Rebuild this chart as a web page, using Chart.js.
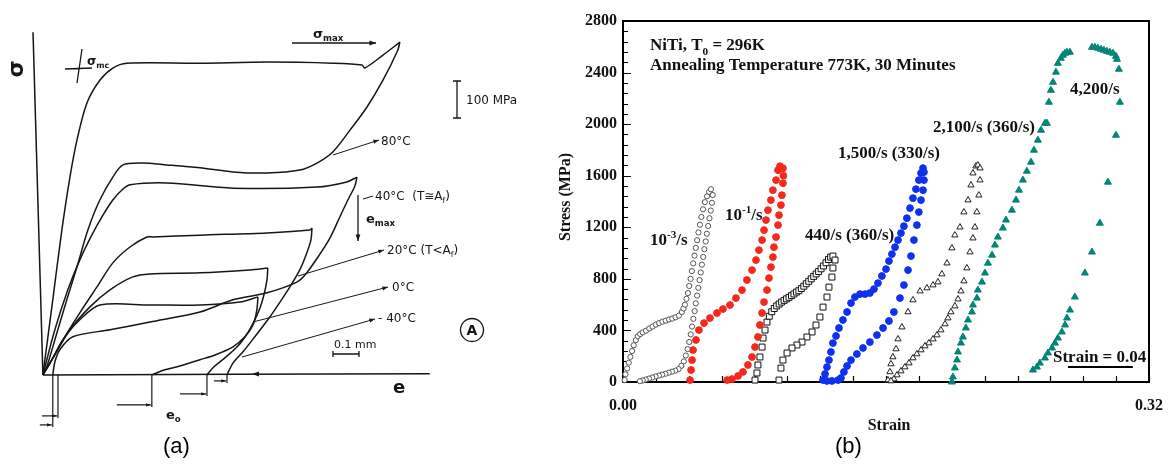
<!DOCTYPE html>
<html>
<head>
<meta charset="utf-8">
<script src="https://cdn.jsdelivr.net/npm/chart.js@4.4.0/dist/chart.umd.min.js"></script>
<style>
  html, body { margin: 0; padding: 0; background: #fff; }
  body { width: 1168px; height: 464px; position: relative; overflow: hidden; font-family: 'Liberation Sans', Arial, sans-serif; }
  #wrapA { position: absolute; left: 0; top: 0; }
  #wrapB { position: absolute; left: 540px; top: 0; }
  .cap { position: absolute; top: 433px; font-size: 22px; color: #000; }
</style>
</head>
<body>
<div id="wrapA"><canvas id="sketch" width="540" height="464"></canvas></div>
<div id="wrapB"><canvas id="curves" width="639" height="464"></canvas></div>
<div class="cap" style="left:163px">(a)</div>
<div class="cap" style="left:835px">(b)</div>

<script>
// ---------- panel (a): schematic loops, strain e in mm, stress in MPa ----------
const tempLabels = ['80°C', '40°C (T≅Af)', '20°C (T<Af)', '0°C', '-40°C'];

const load80 = [[0,0],[0.038,203],[0.073,392],[0.104,535],[0.131,635],[0.169,735],[0.219,797],[0.269,830],[0.323,843],[0.604,843],[0.862,846],[1.115,843],[1.227,838],[1.238,830],[1.308,865],[1.373,900]];
const unload80 = [[1.373,900],[1.365,878],[1.308,797],[1.246,724],[1.181,662],[1.115,603],[1.054,573],[0.988,554],[0.862,546],[0.731,549],[0.604,560],[0.477,568],[0.385,573],[0.308,568],[0.269,535],[0.219,473],[0.173,392],[0.131,292],[0.092,203],[0.054,114],[0.015,22],[0,0]];

const load40 = [[0,0],[0.046,122],[0.096,230],[0.142,311],[0.188,378],[0.231,432],[0.269,473],[0.304,500],[0.335,514],[0.477,519],[0.731,505],[1.054,508],[1.169,522],[1.208,535]];
const unload40 = [[1.208,535],[1.2,511],[1.173,473],[1.142,427],[1.104,370],[1.058,319],[1.008,270],[0.977,251],[0.862,222],[0.731,203],[0.604,170],[0.412,143],[0.258,122],[0.115,103],[0.065,68],[0.046,35],[0.038,0]];

const load20 = [[0,0],[0.027,32],[0.077,95],[0.142,168],[0.208,238],[0.269,303],[0.335,346],[0.4,373],[0.423,373],[0.604,378],[0.862,384],[1.027,392],[1.035,397]];
const unload20 = [[1.035,397],[1.031,365],[1.015,330],[0.988,284],[0.95,238],[0.912,197],[0.865,149],[0.815,103],[0.769,62],[0.731,32],[0.708,0]];

const load0 = [[0,0],[0.046,54],[0.104,122],[0.181,184],[0.258,230],[0.346,265],[0.412,273],[0.604,276],[0.796,284],[0.865,289]];
const unload0 = [[0.865,289],[0.862,257],[0.85,216],[0.835,181],[0.815,149],[0.788,114],[0.75,78],[0.7,46],[0.658,22],[0.631,0]];

const loadM40 = [[0,0],[0.035,41],[0.077,95],[0.142,149],[0.219,189],[0.412,189],[0.604,189],[0.758,197],[0.827,211]];
const unloadM40 = [[0.827,211],[0.823,176],[0.808,135],[0.777,103],[0.731,76],[0.662,54],[0.604,41],[0.527,24],[0.469,14],[0.419,0]];

const axisSigma = [[-0.038,927],[0,0]];
const axisE = [[0,0],[1.488,3]];
const residualStrains = [0.038, 0.058, 0.419, 0.631, 0.708];

// ---------- panel (b): NiTi, strain vs stress (MPa) ----------
const rateLabels = ['10-3/s', '10-1/s', '440/s (360/s)', '1,500/s (330/s)', '2,100/s (360/s)', '4,200/s'];
const strainTicks = [0.00, 0.32];
const stressTicks = [0, 400, 800, 1200, 1600, 2000, 2400, 2800];

const rate1e3 = [[0.001,15],[0.0015,60],[0.0025,105],[0.0035,150],[0.0045,195],[0.0055,240],[0.0065,285],[0.0078,325],[0.009,355],[0.0105,372],[0.012,385],[0.014,398],[0.016,415],[0.018,430],[0.020,445],[0.022,457],[0.024,468],[0.026,476],[0.028,485],[0.030,492],[0.032,502],[0.034,515],[0.0358,543],[0.0368,570],[0.0377,600],[0.0386,645],[0.0395,690],[0.0403,745],[0.0411,800],[0.0419,860],[0.0427,920],[0.0435,980],[0.0443,1040],[0.0451,1100],[0.0459,1160],[0.0468,1220],[0.0477,1280],[0.0487,1340],[0.0498,1395],[0.0511,1440],[0.0524,1475],[0.0535,1495],
  [0.0546,1450],[0.0541,1390],[0.0534,1330],[0.0526,1270],[0.0518,1210],[0.0510,1150],[0.0503,1090],[0.0495,1030],[0.0488,970],[0.0480,910],[0.0473,850],[0.0466,790],[0.0458,730],[0.0451,670],[0.0443,610],[0.0436,550],[0.0428,490],[0.0420,430],[0.0412,370],[0.0403,310],[0.0393,255],[0.0382,205],[0.0370,160],[0.0355,125],[0.0338,100],[0.0318,88],[0.0298,80],[0.0278,72],[0.0258,64],[0.0238,57],[0.0218,50],[0.0198,43],[0.0178,35],[0.0158,27],[0.0138,19],[0.012,12],[0.0103,6]];

const rate1e1 = [[0.0408,15],[0.0414,93],[0.042,170],[0.0426,248],[0.0444,326],[0.0462,403],[0.0493,457],[0.0529,496],[0.0572,535],[0.0608,566],[0.0651,597],[0.0687,651],[0.0724,713],[0.0754,791],[0.0785,868],[0.0809,946],[0.0827,1023],[0.0846,1101],[0.0858,1178],[0.087,1256],[0.0882,1333],[0.09,1411],[0.0912,1488],[0.0931,1566],[0.0943,1643],[0.0955,1674],
  [0.0973,1658],[0.0976,1600],[0.0973,1542],[0.0967,1449],[0.0961,1372],[0.0949,1294],[0.0943,1217],[0.0931,1124],[0.0918,1046],[0.0912,969],[0.09,891],[0.0888,806],[0.0876,713],[0.0858,620],[0.0846,535],[0.0833,442],[0.0821,349],[0.0803,271],[0.0785,194],[0.076,132],[0.073,78],[0.07,47],[0.0663,23],[0.0633,15]];

const rate440 = [[0.0803,15],[0.0815,70],[0.0821,132],[0.0833,194],[0.0846,271],[0.0852,341],[0.0864,403],[0.0876,465],[0.089,510],[0.0905,545],[0.092,570],[0.0935,590],[0.095,605],[0.0965,620],[0.098,633],[0.0995,645],[0.101,657],[0.1025,670],[0.104,683],[0.1055,697],[0.107,708],[0.1085,725],[0.11,743],[0.1115,762],[0.113,781],[0.1145,800],[0.116,819],[0.1175,838],[0.119,857],[0.1205,878],[0.122,900],[0.1235,925],[0.125,950],[0.1263,968],[0.1277,977],
  [0.129,946],[0.1277,884],[0.1271,814],[0.1253,736],[0.1241,659],[0.1217,581],[0.1198,504],[0.1174,442],[0.115,388],[0.1119,349],[0.1089,310],[0.1058,287],[0.1028,264],[0.0998,225],[0.0973,170],[0.0961,108],[0.0949,15]];

const rate1500 = [[0.1217,15],[0.1229,62],[0.1241,116],[0.1253,170],[0.1265,233],[0.1277,302],[0.1296,357],[0.1314,419],[0.1338,481],[0.1363,543],[0.1387,612],[0.1411,659],[0.1442,682],[0.1472,682],[0.1502,690],[0.1527,721],[0.1551,767],[0.1575,822],[0.16,876],[0.1618,938],[0.1636,992],[0.1655,1046],[0.1673,1101],[0.1691,1155],[0.1709,1209],[0.1727,1271],[0.1746,1349],[0.1764,1426],[0.1782,1496],[0.18,1566],[0.1813,1620],[0.1825,1659],
  [0.1831,1628],[0.1831,1566],[0.1825,1488],[0.1813,1411],[0.18,1318],[0.1788,1217],[0.177,1101],[0.1752,977],[0.1734,868],[0.1709,752],[0.1685,651],[0.1648,543],[0.1618,473],[0.1582,419],[0.1545,364],[0.1502,310],[0.146,264],[0.1423,217],[0.1387,170],[0.1363,124],[0.1344,78],[0.1326,31],[0.1308,15],[0.1271,8],[0.1241,8]];

const rate2100 = [[0.1612,15],[0.1624,78],[0.163,140],[0.1642,194],[0.1661,256],[0.1673,333],[0.1697,426],[0.1734,543],[0.1764,636],[0.1807,705],[0.1849,729],[0.1886,752],[0.1916,775],[0.194,837],[0.1971,922],[0.2001,1039],[0.2019,1139],[0.205,1201],[0.2074,1318],[0.2099,1411],[0.2117,1527],[0.2129,1620],[0.2147,1674],[0.2159,1682],
  [0.2172,1659],[0.2172,1566],[0.2165,1449],[0.2153,1318],[0.2141,1201],[0.2129,1116],[0.2111,1008],[0.2092,884],[0.2074,783],[0.2056,705],[0.2038,643],[0.2019,589],[0.1995,543],[0.1977,496],[0.1959,450],[0.1934,403],[0.191,364],[0.1886,333],[0.1861,302],[0.1837,279],[0.1813,248],[0.1788,217],[0.1764,186],[0.174,147],[0.1715,116],[0.1691,85],[0.1667,54],[0.1648,23],[0.163,8]];

const rate4200 = [[0.2001,0],[0.2007,39],[0.2019,109],[0.2032,171],[0.2038,233],[0.2056,302],[0.2068,349],[0.2086,419],[0.2099,481],[0.2123,543],[0.2129,597],[0.2153,651],[0.2159,713],[0.2184,775],[0.2202,845],[0.222,922],[0.2245,984],[0.2263,1062],[0.2281,1124],[0.2311,1194],[0.233,1256],[0.2366,1333],[0.2391,1411],[0.2409,1488],[0.2433,1566],[0.2457,1635],[0.2482,1705],[0.25,1798],[0.2524,1876],[0.2543,1953],[0.2567,2007],[0.2579,2007],[0.2591,2170],[0.2603,2263],[0.2616,2325],[0.2634,2403],[0.2646,2472],[0.2664,2511],[0.2676,2534],[0.2689,2550],[0.2701,2558],[0.2719,2558],
  [0.2853,2596],[0.2871,2596],[0.2889,2589],[0.2908,2581],[0.2926,2573],[0.2944,2565],[0.2962,2558],[0.2981,2550],[0.2999,2527],[0.3005,2503],[0.3017,2426],[0.3023,2170],[0.2999,1914],[0.295,1550],[0.2901,1232],[0.2853,1008],[0.281,845],[0.2749,659],[0.2719,558],[0.2701,496],[0.2689,442],[0.267,388],[0.2646,341],[0.2628,302],[0.261,264],[0.2585,225],[0.2567,186],[0.2536,147],[0.2518,116],[0.2494,93]];

const scaleBar = [[0.2707,116],[0.3102,116]];

// ---------- helpers ----------
const ink = '#161616';
const toXY = pts => pts.map(p => ({ x: p[0], y: p[1] }));

function arrow(ctx, x1, y1, x2, y2, head) {
  const ang = Math.atan2(y2 - y1, x2 - x1);
  ctx.beginPath();
  ctx.moveTo(x1, y1);
  ctx.lineTo(x2, y2);
  ctx.stroke();
  ctx.beginPath();
  ctx.moveTo(x2, y2);
  ctx.lineTo(x2 - head * Math.cos(ang - 0.35), y2 - head * Math.sin(ang - 0.35));
  ctx.lineTo(x2 - head * Math.cos(ang + 0.35), y2 - head * Math.sin(ang + 0.35));
  ctx.closePath();
  ctx.fill();
}

// text with optional sub/superscript pieces
function rich(ctx, x, y, parts, size, family, weight) {
  let cx = x;
  parts.forEach(([t, mode]) => {
    const s = mode ? size * 0.66 : size;
    ctx.font = `${weight} ${s}px ${family}`;
    const dy = mode === 'sub' ? size * 0.25 : mode === 'sup' ? -size * 0.4 : 0;
    ctx.fillText(t, cx, y + dy);
    cx += ctx.measureText(t).width;
  });
}

// ---------- panel (a) ----------
const sketchFont = '"DejaVu Sans"';
const notesA = {
  id: 'notesA',
  afterDatasetsDraw(chart) {
    const { ctx, scales: { x, y } } = chart;
    ctx.save();
    ctx.strokeStyle = ink;
    ctx.fillStyle = ink;
    ctx.lineWidth = 1.3;
    ctx.textBaseline = 'alphabetic';

    // sigma axis symbol
    ctx.save();
    ctx.translate(17, 69);
    ctx.rotate(-Math.PI / 2);
    ctx.textAlign = 'center';
    ctx.textBaseline = 'middle';
    ctx.font = 'bold 22px ' + sketchFont;
    ctx.fillText('σ', 0, 0);
    ctx.restore();

    // sigma_mc cross
    ctx.beginPath();
    ctx.moveTo(65, 69); ctx.lineTo(92, 68);
    ctx.moveTo(82, 49); ctx.lineTo(77, 83);
    ctx.stroke();
    rich(ctx, 87, 65, [['σ'], ['mc', 'sub']], 12, sketchFont, 'bold');

    // sigma_max arrow
    arrow(ctx, 292, 43, 376, 43, 7);
    rich(ctx, 313, 38, [['σ'], ['max', 'sub']], 13, sketchFont, 'bold');

    // 100 MPa bar
    ctx.beginPath();
    ctx.moveTo(457, 81); ctx.lineTo(457, 118);
    ctx.moveTo(453, 81); ctx.lineTo(461, 81);
    ctx.moveTo(453, 118); ctx.lineTo(461, 118);
    ctx.stroke();
    ctx.font = '12px ' + sketchFont;
    ctx.fillText('100 MPa', 466, 104);

    // temperature leaders and labels
    ctx.lineWidth = 1;
    arrow(ctx, 333, 155, 379, 140, 6);
    ctx.font = '12px ' + sketchFont;
    ctx.fillText(tempLabels[0], 381, 145);

    ctx.beginPath(); ctx.moveTo(363, 199); ctx.lineTo(373, 196); ctx.stroke();
    rich(ctx, 375, 200, [['40°C  (T≅A'], ['f', 'sub'], [')']], 12, sketchFont, 'normal');

    arrow(ctx, 298, 276, 384, 250, 6);
    rich(ctx, 387, 254, [['20°C (T<A'], ['f', 'sub'], [')']], 12, sketchFont, 'normal');

    arrow(ctx, 253, 322, 388, 287, 6);
    ctx.font = '12px ' + sketchFont;
    ctx.fillText(tempLabels[3], 392, 291);

    arrow(ctx, 242, 357, 375, 319, 6);
    ctx.fillText('- 40°C', 378, 322);

    // e_max arrow
    ctx.lineWidth = 1.3;
    arrow(ctx, 358, 195, 358, 241, 7);
    rich(ctx, 366, 223, [['e'], ['max', 'sub']], 13, sketchFont, 'bold');

    // 0.1 mm bar
    ctx.font = '11px ' + sketchFont;
    ctx.fillText('0.1 mm', 334, 348);
    ctx.beginPath();
    ctx.moveTo(333, 354); ctx.lineTo(359, 354);
    ctx.moveTo(333, 351); ctx.lineTo(333, 357);
    ctx.moveTo(359, 351); ctx.lineTo(359, 357);
    ctx.stroke();

    // circled A
    ctx.beginPath();
    ctx.arc(472, 330, 11.5, 0, Math.PI * 2);
    ctx.stroke();
    ctx.textAlign = 'center';
    ctx.textBaseline = 'middle';
    ctx.font = 'bold 14px ' + sketchFont;
    ctx.fillText('A', 472, 331);
    ctx.textAlign = 'left';
    ctx.textBaseline = 'alphabetic';

    // strain axis label and small arrow on the axis
    ctx.font = 'bold 18px ' + sketchFont;
    ctx.fillText('e', 393, 393);
    ctx.beginPath();
    ctx.moveTo(252, 374); ctx.lineTo(259, 371.5); ctx.lineTo(259, 376.5); ctx.closePath();
    ctx.fill();

    // residual strain markers
    const drops = [52, 43, 32, 21, 8];
    const reach = [13, 16, 35, 27, 13];
    const base = y.getPixelForValue(0);
    ctx.lineWidth = 1.2;
    residualStrains.forEach((r, i) => {
      const px = x.getPixelForValue(r);
      ctx.beginPath();
      ctx.moveTo(px, base); ctx.lineTo(px, base + drops[i]);
      ctx.stroke();
      arrow(ctx, px - reach[i], base + drops[i] - 2, px - 1, base + drops[i] - 2, 5);
    });
    rich(ctx, 166, 419, [['e'], ['o', 'sub']], 13, sketchFont, 'bold');

    ctx.restore();
  }
};

const sketchLine = pts => ({
  data: toXY(pts), showLine: true, pointRadius: 0,
  borderColor: ink, borderWidth: 1.5, tension: 0.3, clip: false
});

new Chart(document.getElementById('sketch'), {
  type: 'scatter',
  data: {
    datasets: [axisSigma, axisE, load80, unload80, load40, unload40, load20, unload20, load0, unload0, loadM40, unloadM40].map(sketchLine)
  },
  options: {
    responsive: false, animation: false, events: [],
    layout: { padding: 0 },
    plugins: { legend: { display: false }, tooltip: { enabled: false } },
    scales: {
      x: { type: 'linear', display: false, min: -0.165, max: 1.912 },
      y: { type: 'linear', display: false, min: -241, max: 1014 }
    }
  },
  plugins: [notesA]
});

// ---------- panel (b) ----------
const serif = '"Liberation Serif", "Times New Roman", serif';
const frameB = {
  id: 'frameB',
  beforeDatasetsDraw(chart) {
    const { ctx, chartArea: a, scales: { x, y } } = chart;
    ctx.save();
    ctx.strokeStyle = '#000';
    ctx.lineWidth = 1.2;
    ctx.beginPath();
    y.ticks.forEach(t => {
      const p = Math.round(y.getPixelForValue(t.value)) + 0.5;
      const len = stressTicks.includes(t.value) ? 8 : 5;
      ctx.moveTo(a.left, p); ctx.lineTo(a.left + len, p);
    });
    x.ticks.forEach(t => {
      const p = Math.round(x.getPixelForValue(t.value)) + 0.5;
      ctx.moveTo(p, a.bottom); ctx.lineTo(p, a.bottom - 6);
    });
    ctx.stroke();
    ctx.lineWidth = 2;
    ctx.strokeRect(a.left, a.top, a.right - a.left, a.bottom - a.top);
    ctx.restore();
  },
  afterDatasetsDraw(chart) {
    const { ctx, scales: { x, y } } = chart;
    const at = (sx, sy) => [x.getPixelForValue(sx), y.getPixelForValue(sy)];
    ctx.save();
    ctx.fillStyle = '#111';
    ctx.textBaseline = 'alphabetic';
    const S = 17;
    let p = at(0.0164, 2573); rich(ctx, p[0], p[1], [['NiTi, T'], ['0', 'sub'], [' = 296K']], S, serif, 'bold');
    p = at(0.0164, 2418); rich(ctx, p[0], p[1], [['Annealing Temperature 773K, 30 Minutes']], S, serif, 'bold');
    p = at(0.0164, 1062); rich(ctx, p[0], p[1], [['10'], ['-3', 'sup'], ['/s']], S, serif, 'bold');
    p = at(0.062, 1256); rich(ctx, p[0], p[1], [['10'], ['-1', 'sup'], ['/s']], S, serif, 'bold');
    p = at(0.1107, 1100); rich(ctx, p[0], p[1], [[rateLabels[2]]], S, serif, 'bold');
    p = at(0.1308, 1736); rich(ctx, p[0], p[1], [[rateLabels[3]]], S, serif, 'bold');
    p = at(0.1886, 1938); rich(ctx, p[0], p[1], [[rateLabels[4]]], S, serif, 'bold');
    p = at(0.2719, 2232); rich(ctx, p[0], p[1], [[rateLabels[5]]], S, serif, 'bold');
    p = at(0.2616, 155); rich(ctx, p[0], p[1], [['Strain = 0.04']], S, serif, 'bold');

    // axis titles
    ctx.font = `bold 16px ${serif}`;
    ctx.textAlign = 'center';
    ctx.textBaseline = 'middle';
    ctx.fillText('Strain', 349, 426);
    ctx.save();
    ctx.translate(26, 197);
    ctx.rotate(-Math.PI / 2);
    ctx.fillText('Stress (MPa)', 0, 0);
    ctx.restore();
    ctx.restore();
  }
};

const marker = (pts, style, r, fill, stroke) => ({
  data: toXY(pts), showLine: false, clip: false,
  pointStyle: style, pointRadius: r,
  pointBackgroundColor: fill, pointBorderColor: stroke, pointBorderWidth: 1
});

const tickFont = { family: serif, weight: 'bold', size: 16 };

new Chart(document.getElementById('curves'), {
  type: 'scatter',
  data: {
    datasets: [
      marker(rate1e3, 'circle', 2.6, '#fff', '#555'),
      marker(rate1e1, 'circle', 3.4, '#f5281e', '#f5281e'),
      marker(rate440, 'rect', 4.2, '#fff', '#111'),
      marker(rate1500, 'circle', 3.4, '#1030f0', '#1030f0'),
      marker(rate2100, 'triangle', 3.6, '#fff', '#222'),
      marker(rate4200, 'triangle', 4, '#008577', '#008577'),
      { data: toXY(scaleBar), showLine: true, pointRadius: 0, borderColor: '#000', borderWidth: 2, clip: false }
    ]
  },
  options: {
    responsive: false, animation: false, events: [],
    layout: { padding: { top: 21, right: 30, left: 0, bottom: 0 } },
    plugins: { legend: { display: false }, tooltip: { enabled: false } },
    scales: {
      x: {
        type: 'linear', min: 0, max: 0.32,
        afterFit: s => { s.height = 82; },
        grid: { display: false, drawTicks: false },
        border: { display: false },
        ticks: {
          stepSize: 0.02, autoSkip: false, maxRotation: 0, padding: 14, color: '#111', font: tickFont,
          callback: v => {
            const r = Math.round(v * 100) / 100;
            return strainTicks.some(t => Math.abs(t - r) < 1e-6) ? r.toFixed(2) : '';
          }
        }
      },
      y: {
        type: 'linear', min: 0, max: 2800,
        afterFit: s => { s.width = 83; },
        grid: { display: false, drawTicks: false },
        border: { display: false },
        ticks: {
          stepSize: 80, autoSkip: false, padding: 6, color: '#111', font: tickFont,
          callback: v => stressTicks.includes(v) ? String(v) : ''
        }
      }
    }
  },
  plugins: [frameB]
});
</script>
</body>
</html>
